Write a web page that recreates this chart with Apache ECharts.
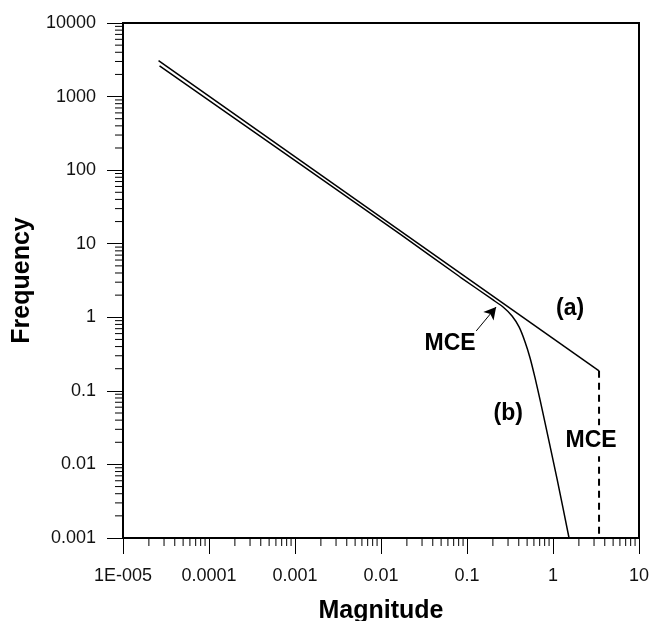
<!DOCTYPE html>
<html>
<head>
<meta charset="utf-8">
<script src="https://cdn.jsdelivr.net/npm/echarts@6/dist/echarts.min.js"></script>
<style>
html,body{margin:0;padding:0;background:#fff;overflow:hidden;}
#c{width:651px;height:621px;}
</style>
</head>
<body>
<div id="c"></div>
<script>
// ---- data ----
const xTickValues = [1e-5, 1e-4, 1e-3, 1e-2, 1e-1, 1, 10];
const xTickLabels = ["1E-005", "0.0001", "0.001", "0.01", "0.1", "1", "10"];
const yTickValues = [1e-3, 1e-2, 1e-1, 1, 10, 100, 1000, 10000];
const yTickLabels = ["0.001", "0.01", "0.1", "1", "10", "100", "1000", "10000"];

const lineA = [[2.59e-5, 3070], [3.43, 0.187]];
const lineAcut = [[3.43, 0.187], [3.43, 0.001]];
const lineB = [
  [2.66e-5, 2606], [1.149e-3, 120.6], [0.0167, 13.52], [0.0832, 3.527],
  [0.2011, 1.719], [0.2627, 1.381], [0.3342, 1.042], [0.4031, 0.739],
  [0.4733, 0.4624], [0.5412, 0.2803], [0.6186, 0.1501], [0.7073, 0.0754],
  [0.8084, 0.0367], [1.1146, 0.00638], [1.5365, 0.001]
];

const annotations = [
  { text: "(a)", coord: [1.58, 1.30] },
  { text: "(b)", coord: [0.301, 0.0488] },
  { text: "MCE", coord: [0.0637, 0.434] },
  { text: "MCE", coord: [2.77, 0.0210], bg: true }
];
const arrowFrom = [0.128, 0.652];
const arrowTo = [0.218, 1.38];

// minor tick values (2..9 per decade)
const xMinor = [];
for (let e = -5; e < 1; e++) for (let k = 2; k <= 9; k++) xMinor.push(k * Math.pow(10, e));
const yMinor = [];
for (let e = -3; e < 4; e++) for (let k = 2; k <= 9; k++) yMinor.push(k * Math.pow(10, e));

const X_MIN = 1e-5, X_MAX = 10, Y_MIN = 1e-3, Y_MAX = 1e4;
const FONT = "Liberation Sans, Arial, sans-serif";

function labelFor(values, labels) {
  return function (v) {
    for (let i = 0; i < values.length; i++) {
      if (Math.abs(Math.log10(v) - Math.log10(values[i])) < 1e-6) return labels[i];
    }
    return '';
  };
}

const chart = echarts.init(document.getElementById('c'), null, { renderer: 'canvas', width: 651, height: 621 });

const option = {
  animation: false,
  backgroundColor: '#fff',
  grid: {
    left: 123, top: 23, width: 516, height: 515,
    outerBoundsMode: 'none', containLabel: false,
    show: true, borderColor: '#000', borderWidth: 2, backgroundColor: 'transparent'
  },
  xAxis: {
    type: 'log', logBase: 10, min: X_MIN, max: X_MAX,
    name: 'Magnitude', nameLocation: 'middle', nameGap: 61,
    nameTextStyle: { fontFamily: FONT, fontSize: 25, fontWeight: 'bold', color: '#000' },
    axisLine: { show: true, lineStyle: { color: '#000', width: 2 } },
    axisTick: { show: true, inside: false, length: 16, lineStyle: { color: '#000', width: 1 } },
    axisLabel: { margin: 29, fontFamily: FONT, fontSize: 18, color: '#111', formatter: labelFor(xTickValues, xTickLabels) },
    splitLine: { show: false }
  },
  yAxis: {
    type: 'log', logBase: 10, min: Y_MIN, max: Y_MAX,
    name: 'Frequency', nameLocation: 'middle', nameGap: 76,
    nameTextStyle: { fontFamily: FONT, fontSize: 25, fontWeight: 'bold', color: '#000' },
    axisLine: { show: true, lineStyle: { color: '#000', width: 2 } },
    axisTick: { show: true, inside: false, length: 16, lineStyle: { color: '#000', width: 1 } },
    axisLabel: { margin: 27, fontFamily: FONT, fontSize: 18, color: '#111', formatter: labelFor(yTickValues, yTickLabels) },
    splitLine: { show: false }
  },
  series: [
    {
      type: 'custom', name: 'xMinor', silent: true, clip: false,
      data: xMinor.map(v => [v, Y_MIN]),
      renderItem: function (params, api) {
        const p = api.coord([api.value(0), api.value(1)]);
        return { type: 'line', shape: { x1: p[0], y1: p[1], x2: p[0], y2: p[1] + 8 }, style: { stroke: '#000', lineWidth: 1 } };
      }
    },
    {
      type: 'custom', name: 'yMinor', silent: true, clip: false,
      data: yMinor.map(v => [X_MIN, v]),
      renderItem: function (params, api) {
        const p = api.coord([api.value(0), api.value(1)]);
        return { type: 'line', shape: { x1: p[0], y1: p[1], x2: p[0] - 8, y2: p[1] }, style: { stroke: '#000', lineWidth: 1 } };
      }
    },
    {
      type: 'line', name: 'a', data: lineA, showSymbol: false, symbol: 'none',
      lineStyle: { color: '#000', width: 1.5 }, z: 3,
      markPoint: {
        symbol: 'circle', symbolSize: 0, silent: true,
        data: annotations.map(a => ({
          coord: a.coord,
          label: {
            show: true, position: 'inside', formatter: a.text,
            fontFamily: FONT, fontSize: 23, fontWeight: 'bold', color: '#000',
            backgroundColor: a.bg ? '#fff' : 'transparent', padding: a.bg ? [4, 2, 4, 2] : 0
          }
        }))
      }
    },
    {
      type: 'line', name: 'aCut', data: lineAcut, showSymbol: false, symbol: 'none',
      lineStyle: { color: '#000', width: 2, type: [7, 5] }, z: 2
    },
    {
      type: 'line', name: 'b', data: lineB, showSymbol: false, symbol: 'none', smooth: 0.15,
      lineStyle: { color: '#000', width: 1.5 }, z: 3,
      markLine: {
        silent: true, animation: false,
        symbol: ['none', 'arrow'], symbolSize: [10, 12],
        label: { show: false },
        lineStyle: { color: '#000', width: 1, type: 'solid' },
        data: [[{ coord: arrowFrom }, { coord: arrowTo }]]
      }
    }
  ]
};
chart.setOption(option);
</script>
</body>
</html>
